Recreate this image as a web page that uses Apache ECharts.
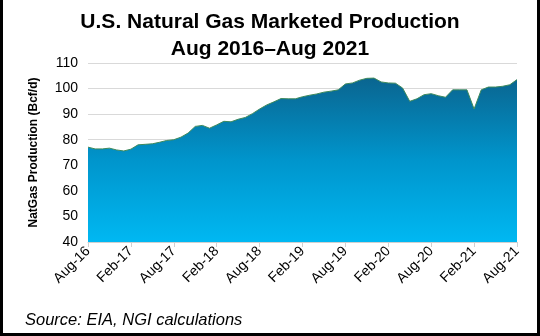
<!DOCTYPE html>
<html>
<head>
<meta charset="utf-8">
<script src="https://cdn.jsdelivr.net/npm/echarts@6/dist/echarts.min.js"></script>
<style>
html,body{margin:0;padding:0;background:#fff;}
#wrap{position:relative;width:540px;height:336px;}
#chart{width:540px;height:336px;}
#frame{position:absolute;left:0;top:0;width:540px;height:336px;box-sizing:border-box;border-left:3px solid #000;border-right:3px solid #000;border-bottom:3px solid #000;pointer-events:none;}
</style>
</head>
<body>
<div id="wrap"><div id="chart"></div><div id="frame"></div></div>
<script>
const titleText = "U.S. Natural Gas Marketed Production\nAug 2016\u2013Aug 2021";
const yAxisName = "NatGas Production (Bcf/d)";
const sourceText = "Source: EIA, NGI calculations";
const months = [
  "Aug-16","Sep-16","Oct-16","Nov-16","Dec-16","Jan-17","Feb-17","Mar-17","Apr-17","May-17","Jun-17","Jul-17",
  "Aug-17","Sep-17","Oct-17","Nov-17","Dec-17","Jan-18","Feb-18","Mar-18","Apr-18","May-18","Jun-18","Jul-18",
  "Aug-18","Sep-18","Oct-18","Nov-18","Dec-18","Jan-19","Feb-19","Mar-19","Apr-19","May-19","Jun-19","Jul-19",
  "Aug-19","Sep-19","Oct-19","Nov-19","Dec-19","Jan-20","Feb-20","Mar-20","Apr-20","May-20","Jun-20","Jul-20",
  "Aug-20","Sep-20","Oct-20","Nov-20","Dec-20","Jan-21","Feb-21","Mar-21","Apr-21","May-21","Jun-21","Jul-21",
  "Aug-21"
];
const production = [
  77.1, 76.4, 76.4, 76.7, 76.0, 75.6, 76.3, 78.0, 78.2, 78.4, 79.0, 79.7,
  80.0, 81.0, 82.6, 85.2, 85.6, 84.5, 85.8, 87.2, 87.0, 88.0, 88.7, 90.2,
  92.0, 93.6, 94.8, 96.1, 96.0, 96.0, 96.8, 97.4, 97.9, 98.6, 99.0, 99.5,
  101.8, 102.2, 103.3, 104.0, 104.1, 102.6, 102.2, 102.1, 100.2, 95.0, 96.0, 97.6,
  98.0, 97.2, 96.6, 99.5, 99.5, 99.5, 92.0, 99.5, 100.6, 100.6, 100.9, 101.5,
  103.5
];
const yMin = 40, yMax = 110, yStep = 10;

const chart = echarts.init(document.getElementById('chart'), null, {renderer:'canvas'});
chart.setOption({
  backgroundColor:'#fff',
  animation:false,
  title:{
    text:titleText, left:'center', top:4,
    textStyle:{fontFamily:'Liberation Sans', fontWeight:'bold', fontSize:21, lineHeight:27, color:'#000'}
  },
  graphic:[{
    type:'text', left:25, top:312,
    style:{text:sourceText, fontFamily:'Liberation Sans', fontStyle:'italic', fontSize:16.5, fill:'#000'}
  }],
  grid:{left:88, right:23, top:63, bottom:94},
  xAxis:{
    type:'category', data:months, boundaryGap:false,
    axisLine:{lineStyle:{color:'#d0d0d0'}},
    axisTick:{interval:5, length:5, lineStyle:{color:'#d0d0d0'}},
    axisLabel:{interval:5, rotate:45, margin:7, fontFamily:'Liberation Sans', fontSize:14, color:'#000'}
  },
  yAxis:{
    type:'value', min:yMin, max:yMax, interval:yStep,
    name:yAxisName, nameLocation:'middle', nameGap:48,
    nameTextStyle:{fontFamily:'Liberation Sans', fontWeight:'bold', fontSize:12, color:'#000'},
    axisLine:{show:false}, axisTick:{show:false},
    axisLabel:{margin:10, fontFamily:'Liberation Sans', fontSize:14, color:'#000'},
    splitLine:{lineStyle:{color:'#d9d9d9'}}
  },
  series:[{
    type:'line', data:production, symbol:'none',
    lineStyle:{color:'#3f8a5c', width:1},
    areaStyle:{opacity:1, color:new echarts.graphic.LinearGradient(0,0,0,1,[
      {offset:0,color:'#0a6590'},{offset:0.5,color:'#0095cc'},{offset:1,color:'#00b8f2'}
    ])}
  }]
});
</script>
</body>
</html>
